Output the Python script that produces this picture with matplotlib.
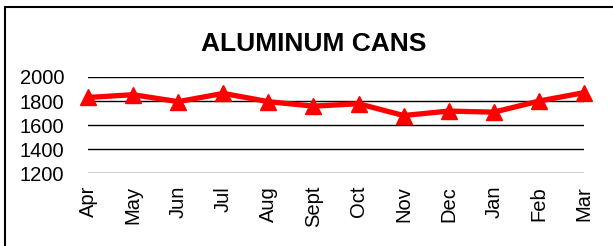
import matplotlib.pyplot as plt
from matplotlib.patches import Rectangle

plt.rcParams['font.family'] = ['Liberation Sans', 'DejaVu Sans']

months = ['Apr', 'May', 'Jun', 'Jul', 'Aug', 'Sept', 'Oct', 'Nov', 'Dec', 'Jan', 'Feb', 'Mar']
cans = [1830, 1853, 1795, 1864, 1795, 1758, 1778, 1680, 1717, 1708, 1800, 1870]
yticks = [1200, 1400, 1600, 1800, 2000]

W, H = 613, 246
fig = plt.figure(figsize=(W / 100, H / 100), dpi=100)

# outer chart border (only left/top visible in the image)
fig.patches.append(Rectangle((5 / W, -0.1), 1.2, 1.1 - 7 / H, transform=fig.transFigure,
                             fill=False, edgecolor='black', linewidth=1.5))

ax = fig.add_axes([88 / W, 1 - 173.3 / H, (584 - 88) / W, (173.3 - 77) / H])
x = list(range(len(months)))
ax.plot(x, cans, color='red', linewidth=3.8, marker='^', markersize=11, clip_on=False, zorder=3)
ax.set_xlim(0, len(months) - 1)
ax.set_ylim(1200, 2000)
ax.set_yticks(yticks)
ax.set_xticks(x)
ax.set_xticklabels(months, rotation=90, fontsize=14.5)
ax.tick_params(axis='y', labelsize=14.5, length=0, pad=17)
ax.tick_params(axis='x', length=0, pad=9)
ax.grid(axis='y', color='black', linewidth=1)
ax.set_axisbelow(True)
for s in ax.spines.values():
    s.set_visible(False)

fig.text(314 / W, 1 - 44 / H, 'ALUMINUM CANS', ha='center', va='center',
         fontsize=19, fontweight='bold')

fig.savefig('out.png', dpi=100)
